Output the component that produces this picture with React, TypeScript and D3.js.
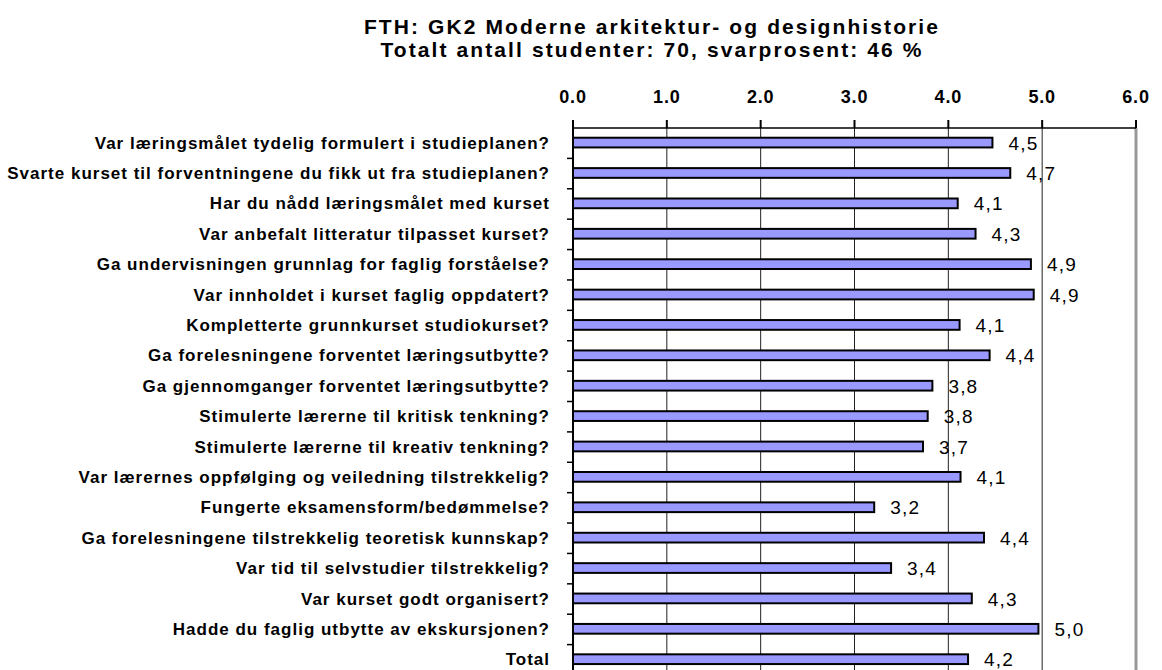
import React from "react";
import * as d3 from "d3";

// Survey questions (top to bottom) and their mean scores
const questions = [
  "Var læringsmålet tydelig formulert i studieplanen?",
  "Svarte kurset til forventningene du fikk ut fra studieplanen?",
  "Har du nådd læringsmålet med kurset",
  "Var anbefalt litteratur tilpasset kurset?",
  "Ga undervisningen grunnlag for faglig forståelse?",
  "Var innholdet i kurset faglig oppdatert?",
  "Kompletterte grunnkurset studiokurset?",
  "Ga forelesningene forventet læringsutbytte?",
  "Ga gjennomganger forventet læringsutbytte?",
  "Stimulerte lærerne til kritisk tenkning?",
  "Stimulerte lærerne til kreativ tenkning?",
  "Var lærernes oppfølging og veiledning tilstrekkelig?",
  "Fungerte eksamensform/bedømmelse?",
  "Ga forelesningene tilstrekkelig teoretisk kunnskap?",
  "Var tid til selvstudier tilstrekkelig?",
  "Var kurset godt organisert?",
  "Hadde du faglig utbytte av ekskursjonen?",
  "Total",
];
const scores = [
  4.47, 4.66, 4.1, 4.29, 4.88, 4.91, 4.12, 4.44, 3.83, 3.78, 3.73, 4.13, 3.21,
  4.38, 3.39, 4.25, 4.96, 4.21,
];
const xTicks = [0, 1, 2, 3, 4, 5, 6];

const titleLines = [
  "FTH: GK2 Moderne arkitektur- og designhistorie",
  "Totalt antall studenter: 70, svarprosent: 46 %",
];

const W = 1162;
const H = 670;
const plot = { left: 573, right: 1136, top: 128, bottom: 675 };

const App = () => {
  const x = d3.scaleLinear().domain([0, 6]).range([plot.left, plot.right]);
  const y = d3.scaleBand<string>().domain(questions).range([plot.top, plot.bottom]);
  const bw = y.bandwidth();
  const fmtTick = d3.format(".1f");
  const fmtVal = (v: number) => d3.format(".1f")(v).replace(".", ",");

  return (
    <svg
      width={W}
      height={H}
      style={{ position: "absolute", left: 0, top: 0, background: "#fff" }}
      fontFamily="'Liberation Sans', Arial, sans-serif"
    >
      {/* title */}
      {titleLines.map((t, i) => (
        <text
          key={t}
          x={652}
          y={34 + i * 23}
          textAnchor="middle"
          fontSize={21}
          fontWeight="bold"
          letterSpacing={2.1}
        >
          {t}
        </text>
      ))}

      {/* gridlines */}
      {xTicks.slice(1, -1).map((t) => (
        <line key={t} x1={x(t)} x2={x(t)} y1={plot.top} y2={plot.bottom} stroke="#222" strokeWidth={1} />
      ))}
      <line x1={x(6)} x2={x(6)} y1={plot.top} y2={plot.bottom} stroke="#999" strokeWidth={3} />

      {/* top axis */}
      <line x1={plot.left} x2={plot.right} y1={plot.top} y2={plot.top} stroke="#000" strokeWidth={1.5} />
      {xTicks.map((t) => (
        <g key={t}>
          <line x1={x(t)} x2={x(t)} y1={plot.top - 8} y2={plot.top} stroke="#000" strokeWidth={2} />
          <text x={x(t)} y={103} textAnchor="middle" fontSize={18} fontWeight="bold" letterSpacing={0.8}>
            {fmtTick(t)}
          </text>
        </g>
      ))}

      {/* left axis */}
      <line x1={plot.left} x2={plot.left} y1={plot.top - 8} y2={plot.bottom} stroke="#000" strokeWidth={2} />
      {questions.map((q, i) =>
        i === 0 ? null : (
          <line key={q} x1={plot.left - 6} x2={plot.left} y1={y(q)!} y2={y(q)!} stroke="#000" strokeWidth={1.5} />
        )
      )}

      {/* bars */}
      {questions.map((q, i) => (
        <rect
          key={q}
          x={x(0)}
          y={y(q)! + bw * 0.32}
          width={x(scores[i]) - x(0)}
          height={bw * 0.32}
          fill="#9999ff"
          stroke="#000"
          strokeWidth={2}
        />
      ))}

      {/* value labels */}
      {questions.map((q, i) => (
        <text
          key={q}
          x={x(scores[i]) + 16}
          y={y(q)! + bw / 2}
          dominantBaseline="central"
          fontSize={19}
          letterSpacing={1.2}
        >
          {fmtVal(scores[i])}
        </text>
      ))}

      {/* category labels */}
      {questions.map((q) => (
        <text
          key={q}
          x={550}
          y={y(q)! + bw / 2}
          dominantBaseline="central"
          textAnchor="end"
          fontSize={17}
          fontWeight="bold"
          letterSpacing={1}
        >
          {q}
        </text>
      ))}
    </svg>
  );
};

export default App;
